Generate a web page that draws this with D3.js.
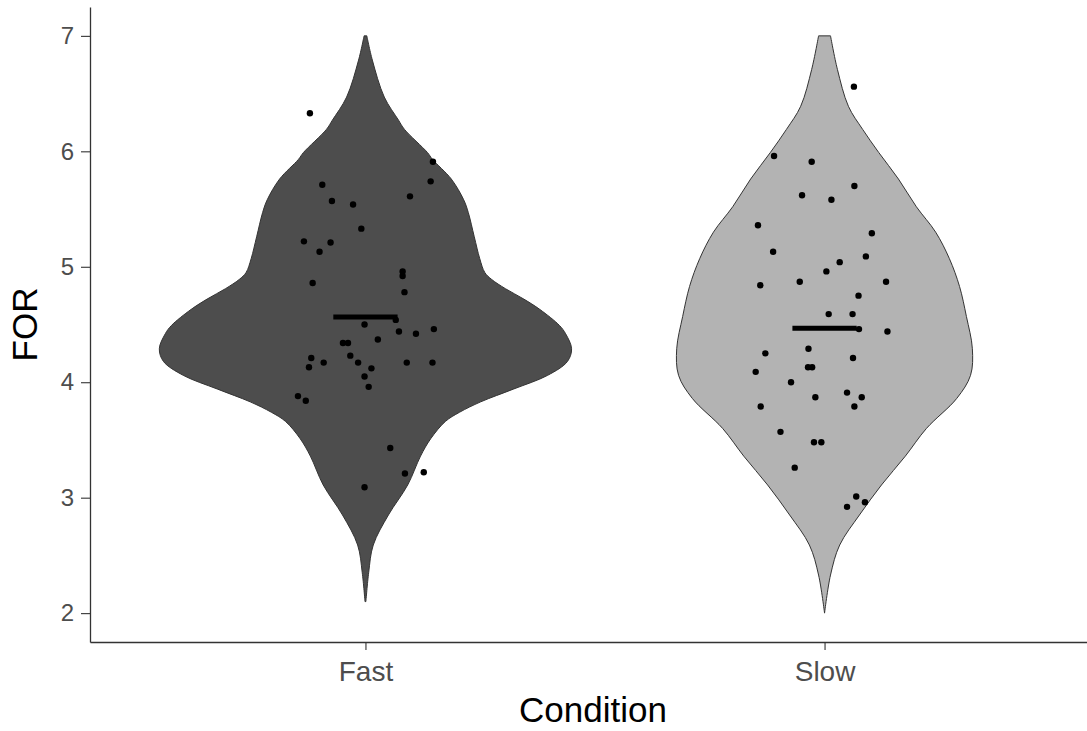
<!DOCTYPE html>
<html>
<head>
<meta charset="utf-8">
<script src="https://cdn.jsdelivr.net/npm/d3@7"></script>
<style>
  body { margin: 0; background: #fff; }
  text { font-family: "Liberation Sans", Arial, sans-serif; }
</style>
</head>
<body>
<div id="chart"></div>
<script>
/* Violin plot of FOR by Condition, with jittered points and mean bars */

const categories = ["Fast", "Slow"];
const yTicks = [2, 3, 4, 5, 6, 7];

// violin outlines: value and half-width (in category units)
const fastDensY = [7.00, 6.79, 6.47, 6.27, 6.19, 5.99, 5.93, 5.76, 5.58, 5.47, 5.26, 5.07, 4.95, 4.89, 4.81, 4.72, 4.63,
                   4.49, 4.42, 4.29, 4.18, 4.06, 3.94, 3.83, 3.74, 3.66, 3.51, 3.36, 3.11, 2.85, 2.59, 2.35, 2.10];
const fastDensW = [0.003, 0.015, 0.041, 0.072, 0.085, 0.135, 0.146, 0.187, 0.214, 0.224, 0.237, 0.249, 0.260, 0.275, 0.305, 0.345, 0.380,
                   0.423, 0.436, 0.449, 0.440, 0.397, 0.322, 0.251, 0.205, 0.174, 0.142, 0.120, 0.092, 0.050, 0.017, 0.007, 0.001];
const slowDensY = [7.00, 6.71, 6.39, 6.19, 5.99, 5.76, 5.52, 5.30, 5.07, 4.83, 4.57, 4.29, 4.06, 3.86, 3.60, 3.36, 3.11, 2.85, 2.59, 2.33, 2.00];
const slowDensW = [0.013, 0.028, 0.052, 0.083, 0.118, 0.161, 0.200, 0.242, 0.272, 0.294, 0.309, 0.322, 0.318, 0.288, 0.222, 0.176, 0.124, 0.076, 0.033, 0.013, 0.0];

// points: FOR value and horizontal jitter
const fastVals = [6.33, 5.91, 5.74, 5.71, 5.61, 5.57, 5.54, 5.33, 5.22, 5.21, 5.13, 4.96, 4.92, 4.86, 4.78, 4.54, 4.50, 4.44, 4.42, 4.46,
                  4.37, 4.34, 4.34, 4.21, 4.23, 4.17, 4.17, 4.17, 4.17, 4.13, 4.12, 4.05, 3.96, 3.88, 3.84, 3.43, 3.21, 3.22, 3.09];
const fastJit = [-0.121, 0.147, 0.142, -0.094, 0.097, -0.073, -0.027, -0.009, -0.134, -0.076, -0.100, 0.081, 0.081, -0.115, 0.085, 0.066, -0.002, 0.073, 0.110, 0.149,
                 0.027, -0.049, -0.038, -0.118, -0.033, -0.091, -0.016, 0.090, 0.146, -0.123, 0.013, -0.002, 0.007, -0.147, -0.130, 0.054, 0.086, 0.127, -0.002];
const slowVals = [6.56, 5.96, 5.91, 5.70, 5.62, 5.58, 5.36, 5.29, 5.13, 5.09, 5.04, 4.96, 4.84, 4.87, 4.87, 4.75, 4.59, 4.59, 4.46, 4.44,
                  4.25, 4.29, 4.21, 4.09, 4.13, 4.13, 4.00, 3.91, 3.87, 3.87, 3.79, 3.79, 3.57, 3.48, 3.48, 3.26, 3.01, 2.96, 2.92];
const slowJit = [0.064, -0.110, -0.028, 0.065, -0.049, 0.015, -0.145, 0.103, -0.112, 0.090, 0.033, 0.004, -0.140, -0.054, 0.134, 0.074, 0.009, 0.061, 0.075, 0.137,
                 -0.129, -0.035, 0.062, -0.150, -0.036, -0.027, -0.073, 0.049, 0.081, -0.020, -0.139, 0.065, -0.096, -0.023, -0.007, -0.065, 0.069, 0.088, 0.049];

const means = [4.565, 4.467];
const fills = ["#4d4d4d", "#b3b3b3"];

const width = 1087,
      height = 731,
      margin = ({ top: 7, right: -13, bottom: 89, left: 90 });

let svg = d3.select("#chart")
    .append("svg")
    .attr("width", width)
    .attr("height", height);

let x = d3.scalePoint()
    .domain(categories)
    .range([margin.left, width - margin.right])
    .padding(0.6);

let unit = x.step(); // pixels per category unit

let y = d3.scaleLinear()
    .domain([1.75, 7.25])
    .range([height - margin.bottom, margin.top]);

let groups = [
    { cat: "Fast", dy: fastDensY, dw: fastDensW, vals: fastVals, jit: fastJit },
    { cat: "Slow", dy: slowDensY, dw: slowDensW, vals: slowVals, jit: slowJit }
];

let area = d3.area()
    .y(d => y(d.v))
    .curve(d3.curveCatmullRom.alpha(0.5));

groups.forEach((g, i) => {
    let cx = x(g.cat);
    let pts = g.dy.map((v, j) => ({ v: v, w: g.dw[j] }));
    svg.append("path")
        .datum(pts)
        .attr("d", area.x0(d => cx - d.w * unit).x1(d => cx + d.w * unit))
        .attr("fill", fills[i])
        .attr("stroke", "#333")
        .attr("stroke-width", 1);

    svg.append("g")
        .selectAll("circle")
        .data(g.vals)
        .join("circle")
        .attr("cx", (d, j) => cx + g.jit[j] * unit)
        .attr("cy", d => y(d))
        .attr("r", 3.2)
        .attr("fill", "#000");

    // mean bar
    svg.append("line")
        .attr("x1", cx - 0.07 * unit)
        .attr("x2", cx + 0.07 * unit)
        .attr("y1", y(means[i]))
        .attr("y2", y(means[i]))
        .attr("stroke", "#000")
        .attr("stroke-width", 5);
});

// axes
let yAxis = svg.append("g")
    .attr("transform", `translate(${margin.left},0)`)
    .call(d3.axisLeft(y).tickValues(yTicks).tickFormat(d3.format("d"))
        .tickSize(9).tickSizeOuter(0).tickPadding(7));

let xAxis = svg.append("g")
    .attr("transform", `translate(0,${height - margin.bottom})`)
    .call(d3.axisBottom(x).tickSize(8).tickSizeOuter(0).tickPadding(11));

[yAxis, xAxis].forEach(a => {
    a.select(".domain").attr("stroke", "#333").attr("stroke-width", 1.3);
    a.selectAll(".tick line").attr("stroke", "#333").attr("stroke-width", 1.1);
    a.selectAll(".tick text").attr("fill", "#4d4d4d");
});
yAxis.selectAll(".tick text").style("font-size", "24px");
xAxis.selectAll(".tick text").style("font-size", "28px");

svg.append("text")
    .attr("x", 593)
    .attr("y", 722)
    .attr("text-anchor", "middle")
    .style("font-size", "35px")
    .attr("fill", "#000")
    .text("Condition");

svg.append("text")
    .attr("transform", `translate(37,${y(4.5)}) rotate(-90)`)
    .attr("text-anchor", "middle")
    .style("font-size", "35px")
    .attr("fill", "#000")
    .text("FOR");
</script>
</body>
</html>
